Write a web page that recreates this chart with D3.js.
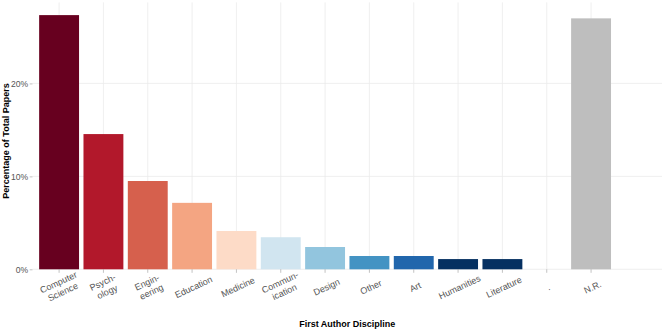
<!DOCTYPE html>
<html>
<head>
<meta charset="utf-8">
<script src="https://cdn.jsdelivr.net/npm/d3@7"></script>
<style>
  body { margin: 0; background: #fff; }
  text { font-family: "Liberation Sans", Arial, sans-serif; }
</style>
</head>
<body>
<svg id="canvas" width="664" height="332"></svg>
<script>
// disciplines in plotting order (last slot is an empty level)
let disciplines = ["Computer Science", "Psychology", "Engineering", "Education", "Medicine",
  "Communication", "Design", "Other", "Art", "Humanities", "Literature", ".", "N.R.", ""];

let tickLabels = [["Computer", "Science"], ["Psych-", "ology"], ["Engin-", "eering"], ["Education"],
  ["Medicine"], ["Commun-", "ication"], ["Design"], ["Other"], ["Art"], ["Humanities"],
  ["Literature"], ["."], ["N.R."], []];

// percent of total papers
let percentages = [27.35, 14.55, 9.5, 7.15, 4.12, 3.45, 2.4, 1.43, 1.43, 1.1, 1.1, null, 27.0, null];

let barColors = ["#67001f", "#b2182b", "#d6604d", "#f4a582", "#fddbc7", "#d1e5f0", "#92c5de",
  "#4393c3", "#2166ac", "#053061", "#053061", "#bebebe", "#bebebe", "#bebebe"];

let yTicks = [0, 10, 20];

let canvas = d3.select("#canvas");

let panelLeft = 32.5, panelRight = 662, panelTop = 2.4, panelBottom = 269.3;

let xScale = d3.scaleBand()
  .domain(disciplines)
  .range([panelLeft, panelRight])
  .paddingInner(0.1)
  .paddingOuter(0.15);

let yScale = d3.scaleLinear()
  .domain([0, d3.max(percentages) * 1.05])
  .range([panelBottom, panelTop]);

let rows = disciplines.map((d, i) => {
  return { name: d, value: percentages[i], color: barColors[i], label: tickLabels[i] };
});
let labelled = rows.filter((r) => r.label.length > 0);
let centre = (r) => xScale(r.name) + xScale.bandwidth() / 2;

// grid
canvas.append("g")
  .selectAll("line")
  .data(yTicks)
  .enter()
  .append("line")
  .attr("x1", panelLeft)
  .attr("x2", panelRight)
  .attr("y1", (t) => yScale(t))
  .attr("y2", (t) => yScale(t))
  .attr("stroke", "#ebebeb")
  .attr("stroke-width", 0.8);

canvas.append("g")
  .selectAll("line")
  .data(labelled)
  .enter()
  .append("line")
  .attr("x1", centre)
  .attr("x2", centre)
  .attr("y1", panelTop)
  .attr("y2", panelBottom)
  .attr("stroke", "#ebebeb")
  .attr("stroke-width", 0.8);

// bars
canvas.append("g")
  .selectAll("rect")
  .data(rows.filter((r) => r.value != null))
  .enter()
  .append("rect")
  .attr("x", (r) => xScale(r.name))
  .attr("width", xScale.bandwidth())
  .attr("y", (r) => yScale(r.value))
  .attr("height", (r) => yScale(0) - yScale(r.value))
  .attr("fill", (r) => r.color);

// y axis
let yAxis = canvas.append("g")
  .attr("transform", "translate(" + panelLeft + ",0)")
  .call(d3.axisLeft(yScale).tickValues(yTicks).tickFormat((t) => t + "%").tickSize(2.8).tickPadding(1.5));
yAxis.select(".domain").remove();
yAxis.selectAll(".tick line").attr("stroke", "#9a9a9a").attr("stroke-width", 0.6);
yAxis.selectAll(".tick text")
  .attr("fill", "#555")
  .attr("font-size", "8.6px")
  .style("font-family", "'Liberation Sans', Arial, sans-serif");

// x axis ticks and labels
let xAxis = canvas.append("g");
xAxis.selectAll("line")
  .data(labelled)
  .enter()
  .append("line")
  .attr("x1", centre)
  .attr("x2", centre)
  .attr("y1", panelBottom)
  .attr("y2", panelBottom + 3.5)
  .attr("stroke", "#9a9a9a")
  .attr("stroke-width", 0.6);

let labelGroups = xAxis.selectAll("g")
  .data(labelled)
  .enter()
  .append("g")
  .attr("transform", (r) => "translate(" + (centre(r) + 1.5) + ",287) rotate(-25)");

labelGroups.append("text")
  .attr("text-anchor", "middle")
  .attr("fill", "#555")
  .attr("font-size", "9px")
  .selectAll("tspan")
  .data((r) => r.label.map((line, i) => ({ line: line, i: i, n: r.label.length })))
  .enter()
  .append("tspan")
  .attr("x", 0)
  .attr("y", (d) => (d.i - (d.n - 1) / 2) * 10.5 + 3.2)
  .text((d) => d.line);

// titles
canvas.append("text")
  .attr("transform", "translate(6,141) rotate(-90)")
  .attr("text-anchor", "middle")
  .attr("dominant-baseline", "central")
  .attr("font-size", "9px")
  .attr("font-weight", "bold")
  .attr("fill", "#000")
  .text("Percentage of Total Papers");

canvas.append("text")
  .attr("x", (panelLeft + panelRight) / 2)
  .attr("y", 324)
  .attr("text-anchor", "middle")
  .attr("dominant-baseline", "central")
  .attr("font-size", "9px")
  .attr("font-weight", "bold")
  .attr("fill", "#000")
  .text("First Author Discipline");
</script>
</body>
</html>
